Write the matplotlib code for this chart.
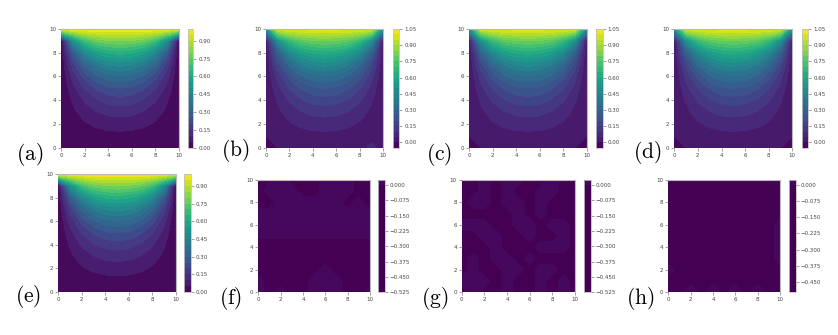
import numpy as np
import matplotlib
matplotlib.use("Agg")
import matplotlib.pyplot as plt
from matplotlib.colors import Normalize

plt.rcParams["mathtext.fontset"] = "cm"

W, H = 838, 335

# grid nodes of the 11 x 11 solution
x_nodes = [0, 1, 2, 3, 4, 5, 6, 7, 8, 9, 10]
y_nodes = [0, 1, 2, 3, 4, 5, 6, 7, 8, 9, 10]

# exact solution, rows from y=0 (bottom) to y=10 (top)
u_exact = [
    [0.000, 0.000, 0.000, 0.000, 0.000, 0.000, 0.000, 0.000, 0.000, 0.000, 0.000],
    [0.000, 0.011, 0.021, 0.029, 0.034, 0.035, 0.034, 0.029, 0.021, 0.011, 0.000],
    [0.000, 0.023, 0.044, 0.060, 0.070, 0.074, 0.070, 0.060, 0.044, 0.023, 0.000],
    [0.000, 0.038, 0.071, 0.097, 0.114, 0.119, 0.114, 0.097, 0.071, 0.038, 0.000],
    [0.000, 0.056, 0.106, 0.144, 0.168, 0.177, 0.168, 0.144, 0.106, 0.056, 0.000],
    [0.000, 0.082, 0.153, 0.206, 0.239, 0.250, 0.239, 0.206, 0.153, 0.082, 0.000],
    [0.000, 0.118, 0.218, 0.290, 0.332, 0.345, 0.332, 0.290, 0.218, 0.118, 0.000],
    [0.000, 0.175, 0.312, 0.403, 0.452, 0.468, 0.452, 0.403, 0.312, 0.175, 0.000],
    [0.000, 0.274, 0.456, 0.557, 0.606, 0.621, 0.606, 0.557, 0.456, 0.274, 0.000],
    [0.000, 0.489, 0.682, 0.765, 0.792, 0.802, 0.792, 0.765, 0.682, 0.489, 0.000],
    [1.000, 1.000, 1.000, 1.000, 1.000, 1.000, 1.000, 1.000, 1.000, 1.000, 1.000],
]

# predictions differ from the exact field on the top row and at a few nodes
top_row_pred = [0.50, 1.00, 1.02, 1.02, 1.02, 1.02, 1.02, 1.02, 1.02, 1.00, 0.50]
edits_b = [(9, 0, 0.08)]
edits_c = []
edits_d = []

# pointwise errors (in units of 1e-3), rows from y=0 to y=10
err_f = [
    [8, -8, 8, -8, -8, 8, 8, 8, -8, -8, 8],
    [8, -8, -8, -8, -8, 8, 8, 8, -8, -8, -8],
    [-8, -8, -8, -8, -8, -8, 8, -8, -8, -8, -8],
    [-8, -8, -8, -8, -8, -8, -8, -8, -8, -8, -8],
    [-8, -8, -8, -8, -8, -8, -8, -8, -8, -8, -8],
    [2, 2, 2, 2, 2, 2, 2, 2, 2, 2, 2],
    [8, 8, 8, 8, 8, 8, 8, 8, 8, 8, 8],
    [8, 8, 8, 8, 8, 8, 8, 8, 8, 8, 8],
    [-8, -8, 8, 8, 8, 8, 8, 8, -8, 8, -8],
    [-8, 8, 8, 8, -8, -8, 8, 8, 8, -8, -8],
    [-510, 8, 8, -8, -8, -8, 8, 8, 8, -8, -510],
]
err_g = [
    [-8, 8, -8, -8, 8, -8, -8, 8, -8, 8, -8],
    [8, 8, 8, -8, 8, -8, -8, 8, -8, 8, -8],
    [-8, 8, -8, -8, 8, 8, -8, 8, 8, -8, -8],
    [-8, 8, -8, 8, 8, -8, 8, -8, -8, -8, -8],
    [-8, -8, -8, 8, -8, -8, -8, 8, 8, 8, -8],
    [-8, -8, 8, 8, -8, -8, 8, -8, -8, 8, -8],
    [8, 8, 8, -8, -8, 8, 8, -8, 8, 8, -8],
    [-8, -8, -8, -8, -8, 8, -8, 8, -8, -8, -8],
    [-8, 8, 8, -8, 8, 8, -8, 8, -8, -8, -8],
    [-8, -8, 8, -8, 8, -8, -8, 8, 8, -8, -8],
    [-510, -8, 8, -8, 8, 8, -8, -8, 8, -8, -510],
]
err_h = [
    [-8, -8, 20, -8, 20, -8, 20, -8, 20, -8, -8],
    [-8, -8, -8, -8, -8, -8, -8, -8, -8, -8, -8],
    [8, -8, -8, -8, -8, -8, -8, -8, -8, -8, -8],
    [-8, -8, -8, -8, -8, -8, -8, -8, -8, -8, 8],
    [-8, -8, -8, -8, -8, -8, -8, -8, -8, -8, 8],
    [-8, -8, -8, -8, -8, -8, -8, -8, -8, -8, 8],
    [-8, -8, -8, -8, -8, -8, -8, -8, -8, -8, 8],
    [-8, -8, -8, -8, -8, -8, -8, -8, -8, -8, -8],
    [-8, -8, -8, -8, -8, -8, -8, -8, -8, -8, -8],
    [-8, -8, -8, -8, -8, -8, -8, -8, -8, -8, -8],
    [-480, -8, -8, -8, -8, -8, -8, -8, -8, -8, -480],
]

panel_labels = ["(a)", "(b)", "(c)", "(d)", "(e)", "(f)", "(g)", "(h)"]

ticks_exact = [0.00, 0.15, 0.30, 0.45, 0.60, 0.75, 0.90]
ticks_pred = [0.00, 0.15, 0.30, 0.45, 0.60, 0.75, 0.90, 1.05]
ticks_err = [0.000, -0.075, -0.150, -0.225, -0.300, -0.375, -0.450, -0.525]
ticks_err_h = [0.000, -0.075, -0.150, -0.225, -0.300, -0.375, -0.450]


def predicted(edits):
    u = np.array(u_exact, dtype=float)
    u[-1, :] = top_row_pred
    for xi, yi, v in edits:
        u[yi, xi] = v
    return u


fields = [
    np.array(u_exact),
    predicted(edits_b),
    predicted(edits_c),
    predicted(edits_d),
    np.array(u_exact),
    np.array(err_f) / 1000,
    np.array(err_g) / 1000,
    np.array(err_h) / 1000,
]

lev_exact = np.linspace(0, 1, 21)
lev_pred = np.linspace(-0.05, 1.05, 23)
lev_err = np.linspace(-0.525, 0.025, 23)
lev_err_h = np.linspace(-0.5, 0.025, 22)
levels = [lev_exact, lev_pred, lev_pred, lev_pred, lev_exact, lev_err, lev_err, lev_err_h]
cticks = [ticks_exact, ticks_pred, ticks_pred, ticks_pred, ticks_exact, ticks_err, ticks_err, ticks_err_h]

# errors are all drawn in the dark end of viridis
err_norm = Normalize(vmin=-0.0125, vmax=1.26)
norms = [None, None, None, None, None, err_norm, err_norm, err_norm]

# pixel layout: axes (left, right, top, bottom), colorbar (left, right), label (x, y)
ax_px = [
    (61, 178.7, 29, 147.7), (266, 383.3, 29, 147.7), (469, 586.7, 29, 147.7), (674.3, 792.3, 29, 147.7),
    (58.3, 175.7, 174, 292), (258.3, 370, 180, 292.3), (461.7, 575, 180, 292.3), (668.3, 780, 180, 292.3),
]
cb_px = [(188.3, 193.3), (393.3, 399.3), (596, 602.7), (801.7, 808.3),
         (184.3, 190.7), (378.3, 385), (584.3, 591), (789, 795.7)]
lab_px = [(16, 154), (221, 151), (426, 155), (633, 152.5),
          (15, 296), (219, 299), (421, 299), (626, 299)]


def rect(l, r, t, b):
    return [l / W, 1 - b / H, (r - l) / W, (b - t) / H]


fig = plt.figure(figsize=(W / 100, H / 100), dpi=100)
X, Y = np.meshgrid(x_nodes, y_nodes)

for i in range(8):
    l, r, t, b = ax_px[i]
    ax = fig.add_axes(rect(l, r, t, b))
    cs = ax.contourf(X, Y, fields[i], levels=levels[i], cmap="viridis", norm=norms[i])
    ax.set_xticks([0, 2, 4, 6, 8, 10])
    ax.set_yticks([0, 2, 4, 6, 8, 10])
    ax.tick_params(labelsize=4, length=2, width=0.5, color="#777777",
                   labelcolor="#444444", pad=1.5)
    for s in ["left", "bottom"]:
        ax.spines[s].set_visible(False)
    for s in ["top", "right"]:
        ax.spines[s].set_color("#b8b8b8")
        ax.spines[s].set_linewidth(0.8)

    cl, cr = cb_px[i]
    cax = fig.add_axes(rect(cl, cr, t, b))
    cb = fig.colorbar(cs, cax=cax)
    cb.set_ticks(cticks[i])
    cb.ax.tick_params(labelsize=4, length=2, width=0.5, color="#777777",
                      labelcolor="#444444", pad=1.5)
    cb.outline.set_edgecolor("#c0c0c0")
    cb.outline.set_linewidth(0.6)

    lx, ly = lab_px[i]
    fig.text(lx / W, 1 - ly / H, r"$\mathrm{" + panel_labels[i] + "}$",
             fontsize=15.5, ha="left", va="center")

fig.savefig("out.png", dpi=100)
